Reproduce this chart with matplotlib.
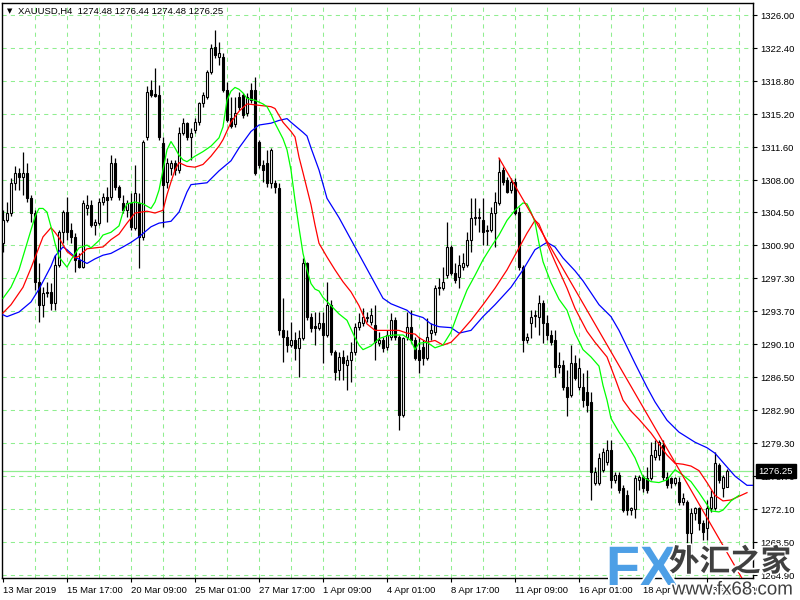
import matplotlib
matplotlib.use("Agg")
import matplotlib.pyplot as plt
import matplotlib.patheffects as pe
import numpy as np

plt.rcParams['font.family'] = ['Liberation Sans', 'DejaVu Sans']

# ---------------- data (XAUUSD H4) ----------------
open_ = [1301.1, 1303.6, 1304.4, 1307.7, 1308.8, 1308.3, 1308.8, 1306.0, 1304.4, 1296.9,
         1294.4, 1295.8, 1295.8, 1294.6, 1298.7, 1302.3, 1304.5, 1302.6, 1301.8, 1299.3,
         1298.5, 1305.0, 1305.3, 1303.1, 1303.3, 1305.6, 1306.2, 1306.2, 1309.9, 1307.2,
         1305.5, 1304.7, 1305.5, 1302.8, 1305.5, 1301.8, 1312.7, 1317.8, 1317.4, 1317.3,
         1312.0, 1307.8, 1309.3, 1309.9, 1309.1, 1313.1, 1314.2, 1312.7, 1313.5, 1314.3,
         1316.4, 1317.1, 1319.8, 1322.5, 1321.4, 1321.4, 1317.8, 1314.8, 1314.1, 1317.1,
         1317.3, 1315.3, 1317.8, 1317.8, 1312.2, 1309.6, 1309.9, 1307.7, 1307.7, 1307.1,
         1291.6, 1290.9, 1290.0, 1290.5, 1289.7, 1290.8, 1298.9, 1293.1, 1292.1, 1291.9,
         1292.4, 1291.1, 1294.4, 1289.2, 1287.3, 1288.7, 1287.8, 1288.4, 1289.2, 1292.0,
         1292.4, 1293.0, 1292.5, 1292.2, 1290.2, 1290.5, 1289.8, 1290.9, 1292.7, 1290.9,
         1282.4, 1290.9, 1292.0, 1290.5, 1289.5, 1289.8, 1288.6, 1291.3, 1291.4, 1296.2,
         1296.2, 1297.6, 1300.7, 1297.9, 1297.4, 1298.5, 1298.7, 1301.5, 1303.9, 1303.9,
         1303.6, 1302.4, 1302.6, 1304.4, 1305.5, 1309.1, 1308.0, 1306.9, 1307.8, 1304.5,
         1298.5, 1290.5, 1292.4, 1293.2, 1293.1, 1294.6, 1292.4, 1291.1, 1290.5, 1287.6,
         1287.8, 1285.4, 1284.6, 1288.0, 1285.4, 1285.4, 1284.9, 1283.8, 1274.9, 1274.9,
         1276.4, 1277.2, 1278.5, 1275.3, 1275.8, 1274.4, 1273.6, 1272.0, 1272.1, 1275.3,
         1275.6, 1275.5, 1275.5, 1277.8, 1278.0, 1279.1, 1275.6, 1275.5, 1274.9, 1275.1,
         1272.9, 1272.9, 1269.5, 1271.7, 1272.2, 1270.6, 1270.0, 1272.2, 1272.2, 1276.9,
         1274.4, 1274.48]
high_ = [1304.7, 1305.6, 1308.2, 1309.5, 1309.3, 1311.1, 1309.9, 1306.4, 1304.7, 1298.9,
         1296.3, 1296.9, 1296.8, 1299.8, 1302.6, 1304.7, 1306.2, 1303.3, 1302.2, 1300.0,
         1305.8, 1306.4, 1305.8, 1303.8, 1306.0, 1306.6, 1307.2, 1310.7, 1310.4, 1307.5,
         1306.4, 1305.8, 1306.6, 1309.6, 1306.6, 1312.4, 1318.3, 1318.9, 1320.2, 1318.4,
         1312.7, 1310.4, 1310.2, 1310.2, 1313.8, 1314.8, 1314.3, 1313.7, 1314.8, 1316.5,
         1317.6, 1320.0, 1322.8, 1324.4, 1323.1, 1321.9, 1318.7, 1317.1, 1317.1, 1317.6,
         1317.5, 1317.5, 1318.6, 1319.2, 1312.4, 1310.2, 1311.3, 1311.5, 1308.0, 1307.7,
         1295.1, 1291.6, 1292.5, 1291.4, 1291.6, 1299.5, 1299.1, 1293.5, 1293.6, 1293.6,
         1293.6, 1296.9, 1294.9, 1289.5, 1289.2, 1289.5, 1288.9, 1290.3, 1292.4, 1293.5,
         1294.0, 1293.6, 1294.0, 1294.4, 1291.4, 1290.9, 1291.6, 1293.5, 1293.1, 1291.1,
         1290.9, 1293.6, 1293.8, 1290.9, 1290.9, 1290.5, 1293.0, 1292.4, 1296.5, 1297.3,
         1298.5, 1303.4, 1300.9, 1298.9, 1299.8, 1300.0, 1302.3, 1306.0, 1306.0, 1304.9,
         1306.0, 1303.1, 1305.1, 1306.7, 1310.4, 1309.4, 1308.3, 1308.2, 1308.2, 1305.1,
         1298.7, 1291.3, 1293.8, 1293.8, 1295.5, 1294.9, 1293.3, 1291.6, 1291.6, 1289.2,
         1288.4, 1287.3, 1290.0, 1288.9, 1288.6, 1286.9, 1287.3, 1284.9, 1276.7, 1278.2,
         1278.8, 1279.6, 1279.6, 1276.1, 1276.1, 1274.7, 1274.2, 1272.3, 1275.8, 1275.8,
         1275.8, 1276.7, 1279.4, 1279.6, 1279.6, 1279.6, 1276.1, 1275.6, 1275.6, 1275.6,
         1273.9, 1273.1, 1272.2, 1272.3, 1272.3, 1270.9, 1273.1, 1274.2, 1278.3, 1277.1,
         1275.8, 1276.44]
low_ = [1300.2, 1303.4, 1304.1, 1306.9, 1306.9, 1306.4, 1305.6, 1303.4, 1296.0, 1292.5,
        1293.1, 1295.2, 1293.8, 1293.8, 1298.5, 1301.1, 1301.5, 1301.1, 1298.0, 1298.4,
        1298.4, 1304.2, 1302.9, 1302.0, 1303.1, 1305.3, 1303.4, 1305.8, 1306.9, 1305.8,
        1304.4, 1304.0, 1302.6, 1302.6, 1298.4, 1301.5, 1312.4, 1317.1, 1317.1, 1312.4,
        1302.9, 1307.1, 1308.6, 1308.6, 1308.8, 1312.9, 1312.4, 1310.2, 1313.1, 1314.0,
        1316.0, 1316.8, 1319.6, 1321.3, 1320.6, 1317.6, 1314.3, 1313.7, 1313.8, 1315.6,
        1314.8, 1315.0, 1316.4, 1308.6, 1309.3, 1307.8, 1307.2, 1307.1, 1306.6, 1291.1,
        1288.1, 1289.2, 1289.8, 1288.4, 1286.5, 1290.5, 1292.7, 1291.4, 1290.0, 1291.6,
        1288.0, 1290.9, 1288.9, 1286.2, 1286.2, 1286.2, 1285.1, 1286.0, 1288.9, 1291.6,
        1292.1, 1292.5, 1292.2, 1288.4, 1289.9, 1289.2, 1289.5, 1290.5, 1290.5, 1280.7,
        1282.1, 1290.5, 1290.2, 1288.4, 1287.0, 1287.8, 1288.4, 1290.5, 1291.1, 1295.5,
        1296.0, 1297.3, 1297.6, 1296.8, 1296.2, 1298.2, 1298.5, 1300.2, 1303.1, 1302.3,
        1300.9, 1300.9, 1302.3, 1300.7, 1305.3, 1307.5, 1306.6, 1306.6, 1304.2, 1298.2,
        1289.2, 1290.2, 1290.8, 1292.0, 1291.1, 1290.2, 1290.5, 1290.0, 1286.5, 1287.0,
        1285.1, 1282.3, 1284.3, 1286.2, 1285.1, 1283.2, 1282.7, 1273.1, 1274.7, 1274.7,
        1276.1, 1276.9, 1274.4, 1274.9, 1273.9, 1271.8, 1271.5, 1271.5, 1271.1, 1274.2,
        1274.0, 1273.9, 1275.3, 1277.5, 1277.5, 1275.3, 1274.4, 1274.4, 1274.7, 1272.6,
        1272.6, 1268.4, 1266.2, 1270.9, 1269.8, 1268.7, 1268.7, 1271.8, 1272.0, 1274.9,
        1273.4, 1274.48]
close_ = [1303.6, 1304.4, 1307.7, 1308.8, 1308.3, 1308.8, 1306.0, 1304.4, 1296.9, 1294.4,
          1295.7, 1295.7, 1294.6, 1298.7, 1302.3, 1304.5, 1302.3, 1301.8, 1299.3, 1298.5,
          1305.5, 1305.3, 1303.1, 1303.4, 1305.6, 1306.2, 1305.8, 1309.9, 1307.2, 1306.2,
          1304.7, 1305.5, 1302.9, 1306.6, 1301.8, 1312.2, 1317.6, 1317.3, 1317.2, 1312.7,
          1307.5, 1309.9, 1309.9, 1309.1, 1313.1, 1314.2, 1312.7, 1313.1, 1314.3, 1316.4,
          1317.3, 1319.8, 1322.4, 1321.6, 1321.9, 1317.8, 1314.5, 1313.9, 1315.3, 1316.0,
          1315.1, 1317.1, 1316.7, 1308.8, 1309.6, 1309.1, 1307.7, 1311.3, 1307.2, 1291.6,
          1290.9, 1290.0, 1290.6, 1289.7, 1290.8, 1298.9, 1293.1, 1291.9, 1291.9, 1292.4,
          1291.1, 1294.4, 1289.2, 1287.1, 1288.7, 1288.0, 1288.4, 1289.2, 1292.0, 1292.5,
          1293.1, 1293.1, 1293.3, 1290.3, 1290.5, 1289.7, 1291.1, 1292.7, 1290.9, 1282.4,
          1290.8, 1292.0, 1290.5, 1288.6, 1288.4, 1288.6, 1290.9, 1291.6, 1296.2, 1296.3,
          1296.9, 1300.7, 1297.9, 1297.1, 1298.7, 1298.9, 1301.5, 1303.9, 1304.0, 1304.0,
          1302.3, 1302.6, 1304.4, 1305.6, 1308.9, 1307.8, 1306.7, 1307.8, 1304.4, 1298.5,
          1290.5, 1290.9, 1293.1, 1293.3, 1294.6, 1292.4, 1291.1, 1290.3, 1287.6, 1287.8,
          1285.4, 1284.3, 1288.0, 1286.4, 1287.5, 1284.0, 1283.5, 1276.2, 1276.1, 1277.7,
          1278.3, 1278.5, 1275.3, 1275.8, 1274.2, 1272.0, 1272.0, 1272.2, 1275.5, 1275.6,
          1274.4, 1274.2, 1278.0, 1278.5, 1279.4, 1275.6, 1274.7, 1274.9, 1275.5, 1272.9,
          1273.3, 1269.5, 1271.7, 1272.2, 1270.6, 1269.6, 1272.2, 1273.4, 1277.1, 1275.3,
          1275.6, 1276.25]

# Alligator lines (bar index incl. forward shift)
lips_bar = [0, 2, 4, 6, 8, 9, 10, 11, 12, 13,
            14, 16, 17, 19, 21, 22, 24, 25, 27, 29,
            30, 31, 33, 35, 37, 38, 39, 40, 41, 42,
            43, 44, 45, 46, 48, 50, 52, 54, 55, 56,
            57, 58, 59, 60, 61, 63, 65, 66, 67, 68,
            70, 71, 72, 73, 74, 75, 76, 77, 78, 79,
            80, 82, 84, 86, 88, 89, 90, 91, 92, 94,
            96, 98, 100, 102, 103, 104, 106, 108, 110, 112,
            114, 116, 118, 120, 122, 124, 126, 128, 130, 131,
            132, 133, 134, 135, 137, 139, 141, 143, 145, 147,
            149, 150, 151, 152, 154, 156, 158, 160, 162, 164,
            166, 168, 170, 172, 174, 176, 177, 179, 180, 182,
            184]
lips = [1295.1, 1296.3, 1298.2, 1301.1, 1304.0, 1304.9, 1304.9, 1304.5, 1302.9, 1301.1,
        1299.6, 1298.5, 1299.3, 1300.6, 1300.9, 1300.6, 1301.4, 1302.0, 1302.3, 1303.0,
        1304.5, 1305.4, 1305.6, 1305.4, 1304.9, 1305.6, 1306.9, 1309.1, 1311.3, 1312.2,
        1311.5, 1310.7, 1310.2, 1310.0, 1310.6, 1311.1, 1311.7, 1312.6, 1313.8, 1316.7,
        1317.7, 1318.1, 1317.9, 1317.5, 1316.9, 1316.7, 1316.3, 1316.0, 1315.2, 1314.2,
        1312.5, 1311.3, 1309.1, 1305.8, 1302.8, 1300.0, 1298.2, 1296.7, 1296.1, 1295.9,
        1295.2, 1294.3, 1293.4, 1292.7, 1290.8, 1290.0, 1289.5, 1289.7, 1289.9, 1290.7,
        1291.0, 1291.1, 1291.1, 1290.5, 1289.5, 1290.2, 1290.3, 1289.7, 1290.0, 1291.4,
        1293.8, 1296.0, 1297.6, 1299.3, 1300.7, 1302.0, 1303.6, 1304.7, 1305.5, 1305.4,
        1304.5, 1303.4, 1301.1, 1299.1, 1296.8, 1295.0, 1293.8, 1291.3, 1289.5, 1288.7,
        1287.7, 1285.6, 1284.0, 1282.0, 1280.5, 1279.2, 1277.7, 1275.6, 1275.1, 1275.0,
        1275.3, 1276.4, 1275.8, 1275.1, 1273.9, 1272.6, 1271.9, 1271.8, 1272.0, 1273.0,
        1273.6]
teeth_bar = [0, 2, 5, 7, 10, 12, 13, 14, 16, 18,
             19, 21, 23, 25, 27, 29, 31, 33, 36, 38,
             40, 41, 42, 43, 44, 46, 48, 50, 52, 54,
             55, 57, 59, 61, 63, 65, 67, 68, 70, 72,
             73, 74, 75, 77, 78, 79, 81, 83, 85, 87,
             89, 91, 93, 96, 99, 101, 103, 104, 106, 108,
             110, 112, 114, 117, 120, 123, 126, 128, 131, 133,
             134, 136, 138, 141, 143, 146, 148, 151, 153, 155,
             157, 159, 162, 164, 166, 168, 170, 172, 174, 176,
             178, 180, 182, 184, 186]
teeth = [1293.5, 1294.4, 1296.3, 1298.4, 1301.8, 1302.8, 1302.3, 1301.7, 1300.2, 1299.5,
         1299.7, 1300.5, 1300.6, 1300.7, 1301.5, 1302.1, 1303.3, 1304.4, 1304.6, 1304.4,
         1304.7, 1306.4, 1307.8, 1309.1, 1309.9, 1309.5, 1309.4, 1309.7, 1310.6, 1311.7,
         1312.4, 1314.3, 1315.5, 1316.3, 1316.2, 1316.1, 1316.0, 1315.8, 1314.3, 1313.3,
         1312.7, 1310.5, 1308.8, 1305.3, 1303.1, 1301.1, 1299.6, 1298.2, 1296.9, 1295.8,
         1294.3, 1292.3, 1291.6, 1291.6, 1291.6, 1291.3, 1291.2, 1290.8, 1290.3, 1290.5,
         1290.0, 1290.3, 1291.2, 1292.7, 1294.4, 1296.2, 1298.2, 1299.8, 1302.2, 1303.6,
         1303.2, 1301.1, 1299.1, 1296.2, 1294.0, 1291.5, 1290.3, 1288.7, 1286.4, 1284.0,
         1282.8, 1281.9, 1280.4, 1279.2, 1278.0, 1277.1, 1277.0, 1276.8, 1276.3, 1275.0,
         1273.6, 1273.0, 1273.1, 1273.5, 1273.9]
jaw_bar = [0, 1, 4, 7, 9, 12, 13, 15, 16, 18,
           21, 23, 25, 27, 30, 32, 34, 37, 39, 42,
           44, 46, 47, 49, 51, 54, 57, 59, 62, 64,
           67, 69, 71, 72, 75, 76, 77, 79, 81, 84,
           87, 90, 92, 95, 97, 101, 102, 105, 107, 109,
           112, 114, 117, 120, 123, 127, 130, 133, 136, 138,
           140, 143, 145, 149, 152, 154, 156, 158, 161, 163,
           166, 169, 173, 176, 178, 181, 183, 186, 188]
jaw = [1293.3, 1293.1, 1293.6, 1294.7, 1296.1, 1298.6, 1299.7, 1300.7, 1300.4, 1299.6,
       1298.9, 1299.4, 1299.8, 1300.0, 1300.7, 1301.2, 1301.8, 1302.9, 1303.3, 1303.5,
       1304.5, 1306.7, 1307.5, 1307.6, 1307.7, 1309.0, 1310.1, 1311.5, 1313.3, 1314.0,
       1314.2, 1314.5, 1314.7, 1314.3, 1313.2, 1312.8, 1311.5, 1309.1, 1306.0, 1303.9,
       1301.5, 1299.1, 1297.5, 1295.1, 1294.5, 1293.8, 1293.4, 1293.0, 1292.3, 1292.0,
       1291.9, 1291.3, 1291.6, 1293.1, 1294.4, 1296.3, 1298.2, 1300.4, 1301.2, 1300.7,
       1299.5, 1298.1, 1297.0, 1294.4, 1293.1, 1291.6, 1289.8, 1288.0, 1285.4, 1283.8,
       1281.8, 1280.5, 1279.4, 1278.8, 1278.2, 1276.7, 1275.7, 1274.7, 1274.7]

trend_bar = [124, 188]
trend_price = [1310.4, 1262.1]

price_levels = [1326.00, 1322.40, 1318.80, 1315.20, 1311.60, 1308.00, 1304.50, 1300.90,
                1297.30, 1293.70, 1290.10, 1286.50, 1282.90, 1279.30, 1275.70, 1272.10,
                1268.50, 1264.90]
time_tick_bar = [0, 16, 32, 48, 64, 80, 96, 112, 128, 144, 160, 176]
time_labels = ["13 Mar 2019", "15 Mar 17:00", "20 Mar 09:00", "25 Mar 01:00",
               "27 Mar 17:00", "1 Apr 09:00", "4 Apr 01:00", "8 Apr 17:00",
               "11 Apr 09:00", "16 Apr 01:00", "18 Apr 17:00", "23 Apr 09:00"]
symbol = "XAUUSD,H4"

# ---------------- drawing ----------------
W, H = 800, 600
fig = plt.figure(figsize=(W / 100, H / 100), dpi=100)
fig.patch.set_facecolor('white')
ax = fig.add_axes([2 / W, 22 / H, 751 / W, 575 / H])
ax.set_facecolor('white')
ax.set_xlim(-0.25, 187.5)
ax.set_ylim(1264.59, 1327.31)

grid_c = '#90ee90'
for v in price_levels:
    ax.axhline(v, color=grid_c, lw=0.75, ls=(0, (4, 4)), zorder=0)
for b in range(8, 188, 8):
    ax.axvline(b, color=grid_c, lw=0.75, ls=(0, (4, 4)), zorder=0)

# current bid line
ax.axhline(close_[-1], color=grid_c, lw=0.9, zorder=0.5)

o = np.array(open_); h = np.array(high_); l = np.array(low_); c = np.array(close_)
x = np.arange(len(c))
up = c > o
ax.vlines(x, l, h, color='black', lw=0.9, zorder=2)
lo = np.minimum(o, c)
hh = np.maximum(np.abs(c - o), 0.06)
ax.bar(x[up], hh[up], bottom=lo[up], width=0.55, color='white', edgecolor='black',
       linewidth=0.8, zorder=3)
ax.bar(x[~up], hh[~up], bottom=lo[~up], width=0.55, color='black', edgecolor='black',
       linewidth=0.8, zorder=3)

ax.plot(jaw_bar, jaw, color='#0000ff', lw=0.9, zorder=4)
ax.plot(teeth_bar, teeth, color='#ff0000', lw=0.9, zorder=4)
ax.plot(lips_bar, lips, color='#00ff00', lw=0.9, zorder=4)
ax.plot(trend_bar, trend_price, color='#ff0000', lw=0.9, zorder=4)

for s in ax.spines.values():
    s.set_color('black'); s.set_linewidth(1.0)

ax.yaxis.tick_right()
ax.set_yticks(price_levels)
ax.set_yticklabels([f"{v:.2f}" for v in price_levels])
ax.tick_params(axis='y', direction='out', length=3, width=0.8, pad=2.5,
               labelsize=6.8, colors='black')
ax.set_xticks(time_tick_bar)
ax.set_xticklabels(time_labels, ha='left')
ax.tick_params(axis='x', direction='out', length=3, width=0.8, pad=2.5,
               labelsize=6.8, colors='black')

ax.annotate(f"{close_[-1]:.2f}", xy=(1, close_[-1]), xycoords=('axes fraction', 'data'),
            xytext=(4, 0), textcoords='offset points', ha='left', va='center',
            color='white', fontsize=6.8,
            bbox=dict(boxstyle='square,pad=0.3', fc='black', ec='black'),
            annotation_clip=False, zorder=10)

def fx(px):
    return px / W

def fy(py):
    return 1 - py / H

fig.text(fx(10), fy(11), '\u25bc', fontsize=5, family='DejaVu Sans', ha='center', va='center')
fig.text(fx(18), fy(11),
         f"{symbol}  {open_[-1]:.2f} {high_[-1]:.2f} {low_[-1]:.2f} {close_[-1]:.2f}",
         fontsize=6.8, ha='left', va='center', color='black')

# watermark
glow = [pe.withStroke(linewidth=2.5, foreground='white')]
fig.text(fx(606), fy(571), "FX", fontsize=40, fontweight='bold', color='#4d9fe6',
         ha='left', va='center', path_effects=glow, zorder=20)
fig.text(fx(669), fy(562), "外汇之家", fontsize=22, fontweight='bold', color='#404040',
         family=['Noto Sans CJK SC', 'DejaVu Sans'], ha='left', va='center',
         path_effects=glow, zorder=20)
fig.text(fx(672), fy(590), "www.fx68.com", fontsize=13.5, color='#404040',
         ha='left', va='center', path_effects=glow, zorder=20)

fig.savefig("out.png", dpi=100, facecolor='white')
